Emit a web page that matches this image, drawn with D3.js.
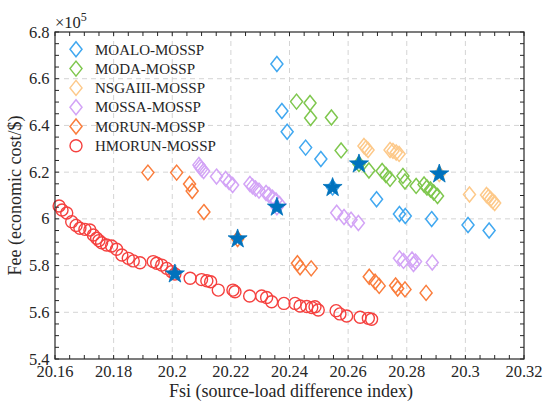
<!DOCTYPE html>
<html>
<head>
<meta charset="utf-8">
<script src="https://cdn.jsdelivr.net/npm/d3@7"></script>
<style>
  html, body { margin: 0; padding: 0; background: #fff; }
  svg { display: block; }
  text { font-family: "Liberation Serif", "Times New Roman", serif; fill: #262626; }
</style>
</head>
<body>
<svg id="chart" width="543" height="404"></svg>
<script>
// Pareto fronts: [Fsi, Fee (x1e5 $)]
const seriesNames = ["MOALO-MOSSP", "MODA-MOSSP", "NSGAIII-MOSSP", "MOSSA-MOSSP", "MORUN-MOSSP", "HMORUN-MOSSP"];

const moalo = [
  [20.2357, 6.663], [20.2374, 6.462], [20.2392, 6.373], [20.2455, 6.305], [20.2507, 6.256],
  [20.2547, 6.134], [20.2697, 6.084], [20.2775, 6.021], [20.2795, 6.012], [20.2885, 5.999],
  [20.3009, 5.974], [20.3081, 5.950]
];

const moda = [
  [20.2424, 6.502], [20.2470, 6.496], [20.2472, 6.432], [20.2543, 6.434], [20.2576, 6.293],
  [20.2637, 6.235], [20.2671, 6.207], [20.2716, 6.205], [20.2729, 6.188], [20.2743, 6.171],
  [20.2787, 6.184], [20.2794, 6.160], [20.2832, 6.141], [20.2859, 6.147], [20.2869, 6.134],
  [20.2881, 6.126], [20.2892, 6.113], [20.2905, 6.098]
];

const nsga3 = [
  [20.2654, 6.312], [20.2661, 6.303], [20.2668, 6.295], [20.2743, 6.295], [20.2753, 6.291],
  [20.2764, 6.284], [20.2774, 6.278], [20.2911, 6.192], [20.3014, 6.104], [20.3072, 6.102],
  [20.3079, 6.094], [20.3086, 6.085], [20.3093, 6.076], [20.3100, 6.068]
];

const mossa = [
  [20.2091, 6.231], [20.2095, 6.222], [20.2100, 6.213], [20.2107, 6.205], [20.2151, 6.181],
  [20.2182, 6.171], [20.2194, 6.158], [20.2206, 6.145], [20.2265, 6.149], [20.2274, 6.139],
  [20.2284, 6.130], [20.2296, 6.121], [20.2320, 6.111], [20.2330, 6.102], [20.2342, 6.091],
  [20.2354, 6.079], [20.2366, 6.064], [20.2357, 6.050], [20.2561, 6.026], [20.2586, 6.008],
  [20.2610, 5.996], [20.2635, 5.982], [20.2775, 5.831], [20.2789, 5.820], [20.2818, 5.826],
  [20.2830, 5.817], [20.2823, 5.807], [20.2887, 5.813]
];

const morun = [
  [20.1917, 6.198], [20.2015, 6.198], [20.2059, 6.149], [20.2068, 6.119], [20.2108, 6.029],
  [20.2223, 5.914], [20.2427, 5.810], [20.2436, 5.793], [20.2474, 5.788], [20.2672, 5.752],
  [20.2692, 5.731], [20.2706, 5.713], [20.2762, 5.715], [20.2769, 5.702], [20.2794, 5.698],
  [20.2866, 5.683]
];

const hmorun = [
  [20.1614, 6.055], [20.1624, 6.038], [20.1640, 6.025], [20.1657, 5.988], [20.1672, 5.972],
  [20.1685, 5.960], [20.1702, 5.955], [20.1719, 5.952], [20.1731, 5.931], [20.1742, 5.917],
  [20.1750, 5.907], [20.1759, 5.898], [20.1776, 5.888], [20.1793, 5.884], [20.1810, 5.870],
  [20.1828, 5.845], [20.1850, 5.831], [20.1867, 5.820], [20.1890, 5.812], [20.1935, 5.817],
  [20.1947, 5.810], [20.1964, 5.802], [20.1981, 5.788], [20.1998, 5.774], [20.2009, 5.764],
  [20.2061, 5.746], [20.2100, 5.740], [20.2118, 5.735], [20.2131, 5.731], [20.2157, 5.695],
  [20.2207, 5.695], [20.2214, 5.688], [20.2264, 5.670], [20.2305, 5.670], [20.2322, 5.663],
  [20.2339, 5.645], [20.2381, 5.638], [20.2419, 5.638], [20.2436, 5.627], [20.2459, 5.625],
  [20.2476, 5.620], [20.2487, 5.624], [20.2498, 5.610], [20.2559, 5.607], [20.2572, 5.593],
  [20.2595, 5.584], [20.2641, 5.579], [20.2669, 5.574], [20.2680, 5.570]
];

// compromise solution picked from each front
const chosen = [
  [20.2009, 5.764], [20.2223, 5.914], [20.2357, 6.050],
  [20.2547, 6.134], [20.2637, 6.235], [20.2911, 6.192]
];

const xTicks = [20.16, 20.18, 20.2, 20.22, 20.24, 20.26, 20.28, 20.3, 20.32];
const yTicks = [5.4, 5.6, 5.8, 6.0, 6.2, 6.4, 6.6, 6.8];
const yExponent = 5;
const xLabel = "Fsi (source-load difference index)";
const yLabel = "Fee (economic cost/$)";

const seriesColors = ["#41A8F0", "#7FC74E", "#FDC98A", "#D3A4F6", "#FA7D3C", "#F5413F"];
const seriesData = [moalo, moda, nsga3, mossa, morun, hmorun];

(function draw() {
  const svg = d3.select("#chart");
  const W = 543, H = 404;
  const pL = 55, pR = 524, pT = 32, pB = 359;
  const tickFont = 16.5, labelFont = 18, legendFont = 15;

  svg.append("rect").attr("width", W).attr("height", H).attr("fill", "#fff");

  const x = d3.scaleLinear().domain([20.16, 20.32]).range([pL, pR]);
  const y = d3.scaleLinear().domain([5.4, 6.8]).range([pB, pT]);

  // dashed grid
  const grid = svg.append("g").attr("stroke", "#d4d4d4").attr("stroke-width", 1).attr("stroke-dasharray", "5,4");
  xTicks.slice(1, -1).forEach(t => {
    grid.append("line").attr("x1", x(t)).attr("x2", x(t)).attr("y1", pT).attr("y2", pB);
  });
  yTicks.slice(1, -1).forEach(t => {
    grid.append("line").attr("x1", pL).attr("x2", pR).attr("y1", y(t)).attr("y2", y(t));
  });

  function diamondPath(cx, cy, hw = 6, hh = 7.5) {
    return `M${cx},${cy - hh}L${cx + hw},${cy}L${cx},${cy + hh}L${cx - hw},${cy}Z`;
  }
  function starPath(cx, cy, R = 10, r = 3.9) {
    const pts = [];
    for (let i = 0; i < 10; i++) {
      const a = -Math.PI / 2 + i * Math.PI / 5;
      const rad = i % 2 === 0 ? R : r;
      pts.push([cx + rad * Math.cos(a), cy + rad * Math.sin(a)]);
    }
    return "M" + pts.map(p => p.join(",")).join("L") + "Z";
  }

  const plot = svg.append("g");
  seriesData.forEach((data, i) => {
    const g = plot.append("g");
    if (i < 5) {
      g.selectAll("path").data(data).join("path")
        .attr("d", d => diamondPath(x(d[0]), y(d[1])))
        .attr("fill", "none").attr("stroke", seriesColors[i]).attr("stroke-width", 1.5);
    } else {
      g.selectAll("circle").data(data).join("circle")
        .attr("cx", d => x(d[0])).attr("cy", d => y(d[1])).attr("r", 6)
        .attr("fill", "none").attr("stroke", seriesColors[i]).attr("stroke-width", 1.4);
    }
  });

  plot.append("g").selectAll("path").data(chosen).join("path")
    .attr("d", d => starPath(x(d[0]), y(d[1])))
    .attr("fill", "#0072BD").attr("stroke", "#0072BD").attr("stroke-width", 0.8)
    .attr("stroke-linejoin", "round");

  // box with inward major and minor ticks
  const axisColor = "#262626";
  const tickLen = 4;
  const xMinor = d3.range(0, 33).map(i => 20.16 + i * 0.005);
  const yMinor = d3.range(0, 29).map(i => 5.4 + i * 0.05);
  const ticks = svg.append("g").attr("stroke", axisColor).attr("stroke-width", 1);
  xMinor.forEach(t => {
    const px = x(t);
    ticks.append("line").attr("x1", px).attr("x2", px).attr("y1", pB).attr("y2", pB - tickLen);
    ticks.append("line").attr("x1", px).attr("x2", px).attr("y1", pT).attr("y2", pT + tickLen);
  });
  yMinor.forEach(t => {
    const py = y(t);
    ticks.append("line").attr("x1", pL).attr("x2", pL + tickLen).attr("y1", py).attr("y2", py);
    ticks.append("line").attr("x1", pR).attr("x2", pR - tickLen).attr("y1", py).attr("y2", py);
  });
  svg.append("rect").attr("x", pL).attr("y", pT).attr("width", pR - pL).attr("height", pB - pT)
    .attr("fill", "none").attr("stroke", axisColor).attr("stroke-width", 1.2);

  // tick labels
  svg.append("g").selectAll("text").data(xTicks).join("text")
    .attr("x", d => x(d)).attr("y", 377.3).attr("text-anchor", "middle")
    .attr("font-size", tickFont).text(d => String(+d.toFixed(2)));
  svg.append("g").selectAll("text").data(yTicks).join("text")
    .attr("x", 49.5).attr("y", d => y(d)).attr("dy", "0.34em").attr("text-anchor", "end")
    .attr("font-size", tickFont).text(d => String(+d.toFixed(1)));

  // exponent label
  const ex = svg.append("text").attr("x", 55).attr("y", 28).attr("font-size", tickFont);
  ex.append("tspan").text("\u00D710");
  ex.append("tspan").attr("font-size", 12).attr("dy", -7.5).text(yExponent);

  // axis titles
  svg.append("text").attr("x", 291).attr("y", 397.2).attr("text-anchor", "middle")
    .attr("font-size", labelFont).text(xLabel);
  svg.append("text").attr("transform", `translate(21,${(pT + pB) / 2}) rotate(-90)`)
    .attr("text-anchor", "middle").attr("font-size", labelFont).text(yLabel);

  // legend
  const legend = svg.append("g");
  seriesNames.forEach((name, i) => {
    const ly = 49.3 + i * 19.3;
    if (i < 5) {
      legend.append("path").attr("d", diamondPath(76, ly))
        .attr("fill", "none").attr("stroke", seriesColors[i]).attr("stroke-width", 1.5);
    } else {
      legend.append("circle").attr("cx", 76).attr("cy", ly).attr("r", 6)
        .attr("fill", "none").attr("stroke", seriesColors[i]).attr("stroke-width", 1.4);
    }
    legend.append("text").attr("x", 95).attr("y", ly).attr("dy", "0.35em")
      .attr("font-size", legendFont).text(name);
  });
})();
</script>
</body>
</html>
